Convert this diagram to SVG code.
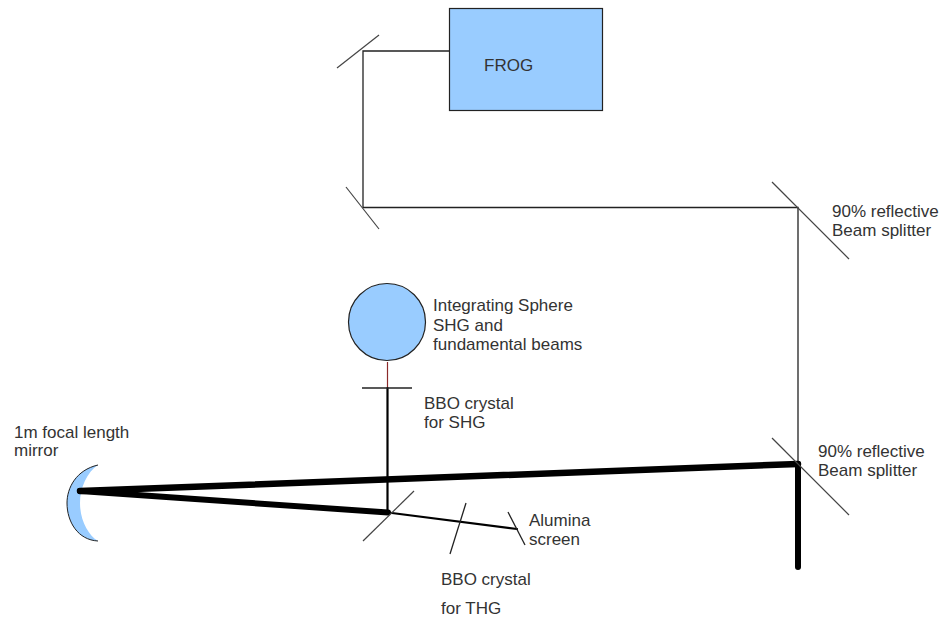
<svg xmlns="http://www.w3.org/2000/svg" width="943" height="617" viewBox="0 0 943 617">
<style>
.t{font-family:"Liberation Sans",Arial,sans-serif;font-size:17px;fill:#333}
.fill{fill:#99ccff;stroke:#222;stroke-width:1.2}
.thin{stroke:#222;stroke-width:1.3;fill:none}
.el{stroke:#444;stroke-width:1.2;fill:none}
.thick{stroke:#000;fill:none;stroke-linecap:round}
</style>
<rect width="943" height="617" fill="#fff"/>
<g id="connectors">
<path class="thin" d="M449 51H363V207.500H798V464"/>
<path d="M387.500 362V388" stroke="#8b2a2a" stroke-width="1.200" fill="none"/>
<path class="thick" stroke-width="2.200" d="M387.500 388V512"/>
</g>
<g id="focal-mirror"><path fill="#99ccff" d="M98 465C76 470 67 488 67 503C67 522 78 540 98 541C88 535 80 520 80 503C80 488 87 472 98 465Z"/><path fill="none" stroke="#222" stroke-width="1" d="M98 465C76 470 67 488 67 503C67 522 78 540 98 541"/><text class="t"><tspan x="14" y="438">1m focal length</tspan><tspan x="14" y="456">mirror</tspan></text></g>
<g id="beams">
<path class="thick" stroke-width="6.500" d="M80 491L798 464"/>
<path class="thick" stroke-width="6" d="M80 491L388 512.500"/>
<path class="thick" stroke-width="2.200" d="M388 512.500L517 529"/>
<path class="thick" stroke-width="6" d="M798 464V567"/>
</g>
<g id="frog"><rect class="fill" x="449.500" y="8.500" width="153" height="102"/><text class="t" x="484" y="71">FROG</text></g>
<g id="mirror-top"><path class="el" d="M337 68L379 35"/></g>
<g id="mirror-corner"><path class="el" d="M346 187L379 229"/></g>
<g id="splitter-upper"><path class="el" d="M772 182L849 259"/><text class="t"><tspan x="832" y="217">90% reflective</tspan><tspan x="832" y="236">Beam splitter</tspan></text></g>
<g id="splitter-lower"><path class="el" d="M772 438L849 515"/><text class="t"><tspan x="818" y="457">90% reflective</tspan><tspan x="818" y="476">Beam splitter</tspan></text></g>
<g id="sphere"><circle class="fill" cx="387" cy="322" r="38.500"/><text class="t"><tspan x="433" y="311">Integrating Sphere</tspan><tspan x="433" y="331">SHG and</tspan><tspan x="433" y="350">fundamental beams</tspan></text></g>
<g id="bbo-shg"><path class="thin" d="M362 388H412"/><text class="t"><tspan x="424" y="409">BBO crystal</tspan><tspan x="424" y="428">for SHG</tspan></text></g>
<g id="mirror-lower"><path class="el" d="M363 541L414 491"/></g>
<g id="bbo-thg"><path class="thin" d="M450 554L466 503"/><text class="t"><tspan x="441" y="585">BBO crystal</tspan><tspan x="441" y="614">for THG</tspan></text></g>
<g id="alumina"><path class="thin" d="M508 512L525 545"/><text class="t"><tspan x="529" y="526">Alumina</tspan><tspan x="529" y="545">screen</tspan></text></g>
</svg>
